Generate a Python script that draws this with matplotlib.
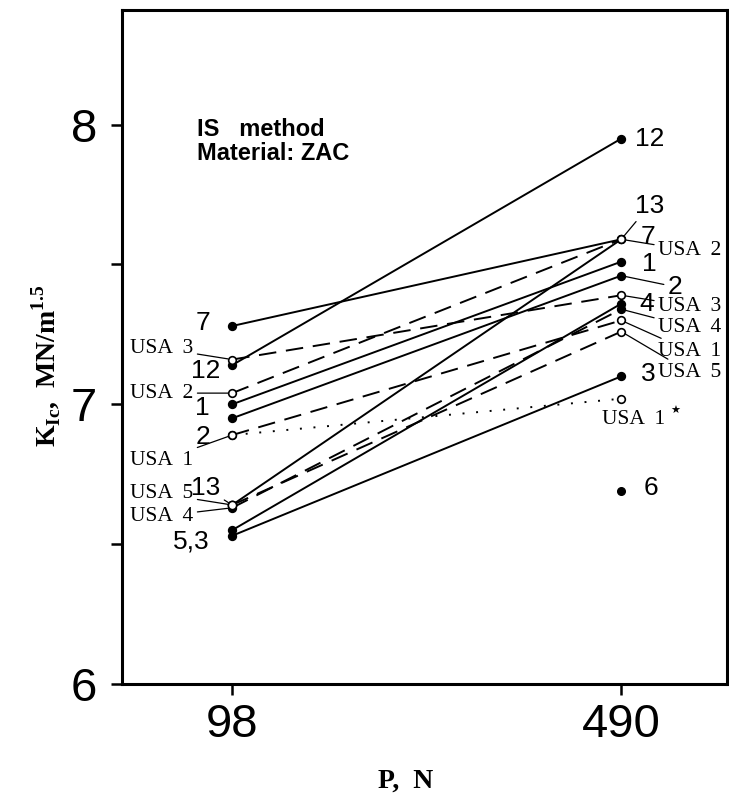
import matplotlib
matplotlib.use('Agg')
from matplotlib import pyplot as plt

plt.rcParams['mathtext.fontset'] = 'custom'
plt.rcParams['mathtext.rm'] = 'Liberation Serif:bold'
plt.rcParams['mathtext.bf'] = 'Liberation Serif:bold'

# Loads and K_Ic values
loads = ['98', '490']
series = ['12', '7', '13', '1', '2', '5', '3',
          'USA 1', 'USA 1*', 'USA 2', 'USA 3', 'USA 4', 'USA 5']
k_98 = [7.14, 7.28, 6.64, 7.00, 6.95, 6.55, 6.53,
        6.89, 6.89, 7.04, 7.16, 6.63, 6.64]
k_490 = [7.95, 7.59, 7.59, 7.51, 7.46, 7.36, 7.10,
         7.30, 7.02, 7.59, 7.39, 7.34, 7.26]
single_name = ['6']
single_k = [6.69]

open_series = ['USA 1', 'USA 1*', 'USA 2', 'USA 3', 'USA 5']

fig = plt.figure(figsize=(7.29, 7.97), dpi=100)
ax = fig.add_axes([0.1674, 0.1418, 0.830, 0.8457])

xs = [0, 1]
for name, a, b in zip(series, k_98, k_490):
    if name == 'USA 1*':
        ls = (0, (1, 6))
    elif name.startswith('USA'):
        ls = (0, (9, 5))
    else:
        ls = '-'
    ax.plot(xs, [a, b], color='black', lw=1.4, ls=ls, zorder=2)
    face = 'white' if name in open_series else 'black'
    ax.plot(xs, [a, b], ls='none', marker='o', ms=5.5, mfc=face,
            mec='black', mew=1.2, zorder=3)
# series 13 starts from an open point
ax.plot([0], [k_98[series.index('13')]], ls='none', marker='o', ms=6,
        mfc='white', mec='black', mew=1.2, zorder=4)
ax.plot([1] * len(single_k), single_k, ls='none', marker='o', ms=5.5,
        color='black', zorder=3)

num_font = dict(family='Liberation Sans', fontsize=19)
usa_font = dict(family='Liberation Serif', fontsize=15.5)
lead = dict(arrowstyle='-', color='black', lw=0.9, shrinkA=1, shrinkB=3)

# labels at 98 N
ax.text(-0.075, 7.29, '7', ha='center', va='center', **num_font)
ax.text(-0.069, 7.118, '12', ha='center', va='center', **num_font)
ax.text(-0.077, 6.986, '1', ha='center', va='center', **num_font)
ax.text(-0.075, 6.882, '2', ha='center', va='center', **num_font)
ax.text(-0.105, 6.51, '5,3', ha='center', va='center', **num_font)
ax.annotate('13', xy=(0, 6.64), xytext=(-0.068, 6.70), ha='center',
            va='center', arrowprops=lead, **num_font)
for txt, y_pt, y_txt in [('USA  3', 7.16, 7.20), ('USA  2', 7.04, 7.04),
                         ('USA  1', 6.89, 6.80), ('USA  5', 6.64, 6.68),
                         ('USA  4', 6.63, 6.60)]:
    ax.annotate(txt, xy=(0, y_pt), xytext=(-0.10, y_txt), ha='right',
                va='center', arrowprops=lead, **usa_font)

# labels at 490 N
ax.text(1.072, 7.95, '12', ha='center', va='center', **num_font)
ax.annotate('13', xy=(1, 7.59), xytext=(1.072, 7.71), ha='center',
            va='center', arrowprops=lead, **num_font)
ax.text(1.069, 7.60, '7', ha='center', va='center', **num_font)
ax.text(1.072, 7.50, '1', ha='center', va='center', **num_font)
ax.annotate('2', xy=(1, 7.46), xytext=(1.139, 7.42), ha='center',
            va='center', arrowprops=lead, **num_font)
ax.text(1.066, 7.36, '4', ha='center', va='center', **num_font)
ax.text(1.069, 7.11, '3', ha='center', va='center', **num_font)
ax.text(1.075, 6.70, '6', ha='center', va='center', **num_font)
for txt, y_pt, y_txt in [('USA  2', 7.59, 7.55), ('USA  3', 7.39, 7.35),
                         ('USA  4', 7.34, 7.276), ('USA  1', 7.30, 7.19),
                         ('USA  5', 7.26, 7.115)]:
    ax.annotate(txt, xy=(1, y_pt), xytext=(1.095, y_txt), ha='left',
                va='center', arrowprops=lead, **usa_font)
ax.text(0.951, 6.946, 'USA  1', ha='left', va='center', **usa_font)
ax.text(1.125, 6.978, '\u2605', ha='left', va='center',
        family='DejaVu Sans', fontsize=8)

ax.text(-0.09, 7.94, 'IS   method\nMaterial: ZAC', ha='left', va='center',
        family='Liberation Sans', weight='bold', fontsize=17,
        linespacing=1.1)

# Format plot.
ax.set_xlim(-0.283, 1.272)
ax.set_ylim(6.0, 8.41)
ax.set_xticks(xs)
ax.set_xticklabels(loads)
ax.set_yticks([6, 7, 8])
ax.set_yticks([6.5, 7.5], minor=True)
for lbl in ax.get_xticklabels() + ax.get_yticklabels():
    lbl.set_family('Liberation Sans')
    lbl.set_fontsize(34)
ax.tick_params(axis='both', which='both', direction='out', length=8,
               width=1.8, color='black')
ax.tick_params(axis='x', pad=6)
ax.tick_params(axis='y', pad=10)
for sp in ax.spines.values():
    sp.set_linewidth(2.2)

ax.set_xlabel('P,  N', family='Liberation Serif', weight='bold',
              fontsize=20)
ax.xaxis.set_label_coords(0.468, -0.125)
ax.set_ylabel(r'K$_{\mathrm{Ic}}$,  MN/m$^{\mathrm{1.5}}$',
              family='Liberation Serif', weight='bold', fontsize=20)
ax.yaxis.set_label_coords(-0.097, 0.472)

fig.savefig('out.png', dpi=100)
